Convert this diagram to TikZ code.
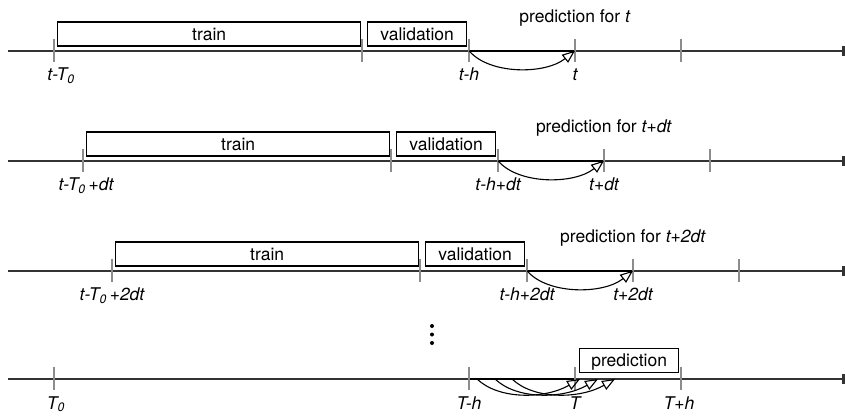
\documentclass[tikz,border=0pt]{standalone}
\usepackage{fontspec}
\setmainfont{TeX Gyre Heros}
\usetikzlibrary{arrows.meta}
\begin{document}
\begin{tikzpicture}[x=1pt,y=-1pt,
  axis/.style={draw=black!80, line width=1.6pt, -{Rectangle[length=3.5pt,width=10pt]}},
  tickline/.style={draw=black!45, line width=1.1pt},
  spanline/.style={draw=black, line width=2pt},
  boxnode/.style={draw=black, line width=1.3pt, fill=white, minimum height=24pt, inner sep=0pt,
    text height=12pt, text depth=0pt, font=\fontsize{17.5}{20}\selectfont, anchor=south west},
  lbl/.style={font=\fontsize{17.5}{20}\selectfont\itshape, anchor=base, inner sep=0pt},
  predlbl/.style={font=\fontsize{17.5}{20}\selectfont, anchor=base, inner sep=0pt},
  predarrow/.style={draw=black, line width=1.1pt, -{Triangle[open,length=13pt,width=10pt,line width=1.1pt]}},
  dot/.style={circle, fill=black, inner sep=0pt, minimum size=4pt},
]
\useasboundingbox (0,0) rectangle (845,415);

% ---------- rows 1-3 ----------
\foreach \r/\Y/\o/\la/\lc/\ld/\pf/\lx in {
  1/50.7/0/{t-T\textsubscript{0}}/{t-h}/{t}/{t}/7,
  2/160.7/29/{t-T\textsubscript{0}\,+dt}/{t-h+dt}/{t+dt}/{t+dt}/3,
  3/270.7/58/{t-T\textsubscript{0}\,+2dt}/{t-h+2dt}/{t+2dt}/{t+2dt}/0}{
  \coordinate (s\r) at (8,\Y);
  \coordinate (z\r) at (845,\Y);
  \coordinate (a\r) at (54+\o,\Y);
  \coordinate (b\r) at (362+\o,\Y);
  \coordinate (c\r) at (469+\o,\Y);
  \coordinate (d\r) at (575+\o,\Y);
  \coordinate (e\r) at (681+\o,\Y);
  \draw[axis] (s\r) -- (z\r);
  \draw[spanline] (c\r) -- (d\r);
  \foreach \k in {a,b,c,d,e}{
    \draw[tickline] (\k\r) ++(0,-12) -- ++(0,23);
  }
  \node[boxnode, minimum width=303pt] (train\r) at ([xshift=3pt,yshift=4pt]a\r) {train};
  \node[boxnode, minimum width=99pt] (val\r) at ([xshift=5pt,yshift=4pt]b\r) {validation};
  \node[predlbl] (pl\r) at ([yshift=28pt]d\r) {prediction for \textit{\pf}};
  \node[lbl] (la\r) at ([xshift=\lx pt,yshift=-30pt]a\r) {\la};
  \node[lbl] (lc\r) at ([yshift=-30pt]c\r) {\lc};
  \node[lbl] (ld\r) at ([yshift=-30pt]d\r) {\ld};
  \draw[predarrow] (c\r) .. controls +(20,24) and +(-30,24) .. (d\r);
}

% ---------- dots ----------
\node[dot] (dA) at (432,326) {};
\node[dot] (dB) at (432,334.5) {};
\node[dot] (dC) at (432,343) {};

% ---------- row 4 ----------
\coordinate (s4) at (8,379);
\coordinate (z4) at (845,379);
\coordinate (a4) at (54,379);
\coordinate (c4) at (469,379);
\coordinate (d4) at (575,379);
\coordinate (e4) at (681,379);
\draw[axis] (s4) -- (z4);
\draw[spanline] (c4) -- (d4);
\foreach \k in {a,c,d,e}{
  \draw[tickline] (\k4) ++(0,-12) -- ++(0,23);
}
\node[boxnode, minimum width=99pt] (pred4) at (579,373) {prediction};
\node[lbl] (la4) at ([xshift=2pt,yshift=-30pt]a4) {T\textsubscript{0}};
\node[lbl] (lc4) at ([yshift=-30pt]c4) {T-h};
\node[lbl] (ld4) at ([yshift=-30pt]d4) {T};
\node[lbl] (le4) at ([xshift=-2pt,yshift=-30pt]e4) {T+h};
\coordinate (p1) at (477,379);
\coordinate (p2) at (495,379);
\coordinate (p3) at (512,379);
\coordinate (q1) at (580,379);
\coordinate (q2) at (598,379);
\coordinate (q3) at (615,379);
\draw[predarrow] (p1) .. controls +(22,21) and +(-35,20) .. (q1);
\draw[predarrow] (p2) .. controls +(22,21) and +(-35,20) .. (q2);
\draw[predarrow] (p3) .. controls +(22,21) and +(-35,20) .. (q3);
\end{tikzpicture}
\end{document}
